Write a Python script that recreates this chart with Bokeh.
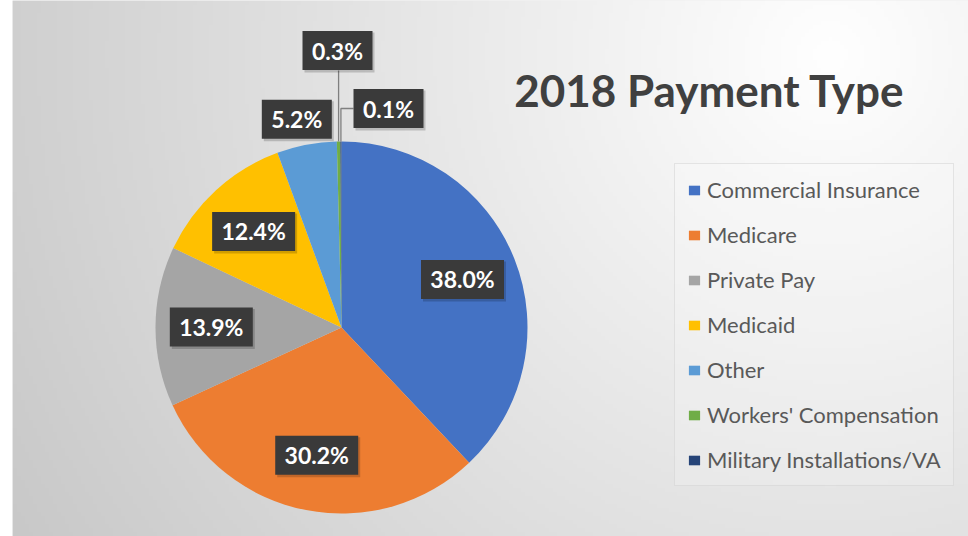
import numpy as np
from bokeh.plotting import figure
from bokeh.models import ColumnDataSource, Range1d, Legend, LegendItem
from bokeh.core.properties import value
from bokeh.embed import file_html
from bokeh.resources import INLINE

# ---- data ----
categories = ["Commercial Insurance", "Medicare", "Private Pay", "Medicaid",
              "Other", "Workers' Compensation", "Military Installations/VA"]
shares = [38.0, 30.2, 13.9, 12.4, 5.2, 0.3, 0.1]
colors = ["#4472C4", "#ED7D31", "#A5A5A5", "#FFC000", "#5B9BD5", "#70AD47", "#264478"]
title_text = "2018 Payment Type"

# ---- layout constants (screen-pixel data space) ----
W, H = 968, 536
LEFT = 12
CX, CY, R = 341, 209, 186
FONT = "Lato"

p = figure(width=W, height=H, x_range=Range1d(12, 968), y_range=Range1d(0, 536),
           x_axis_type=None, y_axis_type=None, output_backend="svg",
           toolbar_location=None, min_border_left=LEFT, min_border_right=0,
           min_border_top=0, min_border_bottom=0)
p.grid.visible = False
p.outline_line_color = None
p.border_fill_color = "white"
p.background_fill_color = "#e6e6e6"

# ---- background gradient (decoration) ----
step = 4
nx, ny = 956 // step, 536 // step
xs = 12 + (np.arange(nx) + 0.5) * step
ys = (np.arange(ny) + 0.5) * step
X, Y = np.meshgrid(xs, ys)
sy = 536 - Y
d = np.sqrt((X - 830) ** 2 + (sy - 55) ** 2)
g = np.clip(255 - d * 0.058, 195, 255).astype(np.uint8)
img = np.empty((ny, nx), dtype=np.uint32)
v = img.view(dtype=np.uint8).reshape((ny, nx, 4))
v[:, :, 0] = g
v[:, :, 1] = g
v[:, :, 2] = g
v[:, :, 3] = 255
p.image_rgba(image=[img], x=12, y=0, dw=956, dh=536)

# ---- pie ----
vals = np.array(shares)
frac = vals / vals.sum()
cum = np.concatenate([[0], np.cumsum(frac)])
start = np.pi / 2 - 2 * np.pi * cum[:-1]
end = np.pi / 2 - 2 * np.pi * cum[1:]
mid = (start + end) / 2
src = ColumnDataSource(dict(cat=categories, start=start, end=end, color=colors))
wr = p.wedge(x=CX, y=CY, radius=R, start_angle="start", end_angle="end",
             direction="clock", fill_color="color", line_color=None, source=src)

# ---- data labels ----
labels = [f"{s:.1f}%" for s in shares]
lx, ly = [], []
for i, s in enumerate(shares):
    if s >= 10:
        f = 0.70
        lx.append(CX + f * R * np.cos(mid[i]))
        ly.append(CY + f * R * np.sin(mid[i]))
    elif s >= 1:
        f = 1.14
        lx.append(CX + f * R * np.cos(mid[i]) - 5)
        ly.append(CY + f * R * np.sin(mid[i]))
    elif i == 5:
        lx.append(CX - 4)
        ly.append(CY + R + 91)
    else:
        lx.append(CX + 47)
        ly.append(CY + R + 33)
bw = [13 * len(t) + 18 for t in labels]

# leader lines for the tiny slices
ax5 = CX + R * np.cos(mid[5])
ax6 = CX + R * np.cos(mid[6])
p.line(x=[ax5, ax5], y=[CY + R * np.sin(mid[5]), ly[5] - 20], line_color="#7f7f7f", line_width=1.3)
p.line(x=[ax6, ax6, lx[6] - bw[6] / 2], y=[CY + R * np.sin(mid[6]), ly[6], ly[6]],
       line_color="#7f7f7f", line_width=1.3)

lsrc = ColumnDataSource(dict(x=lx, y=ly, t=labels, w=bw,
                             xs=[a + 2 for a in lx], ys=[b - 2 for b in ly]))
p.rect(x="xs", y="ys", width="w", height=40, fill_color="black", fill_alpha=0.18,
       line_color=None, source=lsrc)
p.rect(x="x", y="y", width="w", height=39, fill_color="#3a3a3a", line_color=None, source=lsrc)
p.text(x="x", y="y", text="t", text_align="center", text_baseline="middle",
       text_color="white", text_font=value(FONT), text_font_style="bold",
       text_font_size="23px", source=lsrc)

# ---- title ----
p.text(x=[709], y=[536 - 89], text=[title_text], text_align="center",
       text_baseline="middle", text_color="#404040", text_font=value(FONT),
       text_font_style="bold", text_font_size="44px")

# ---- legend ----
legend = Legend(location=(662, 50))
legend.items = [LegendItem(label=categories[i], renderers=[wr], index=i) for i in range(len(categories))]
legend.label_text_font = FONT
legend.label_text_font_size = "22px"
legend.label_text_color = "#595959"
legend.glyph_width = 14
legend.glyph_height = 12
legend.label_height = 20
legend.label_standoff = 6
legend.spacing = 18
legend.padding = 12
legend.margin = 0
legend.background_fill_color = "white"
legend.background_fill_alpha = 0.18
legend.border_line_color = "#d0d0d0"
legend.border_line_alpha = 0.5
p.add_layout(legend, "center")

open("out.html", "w").write(file_html(p, INLINE))
